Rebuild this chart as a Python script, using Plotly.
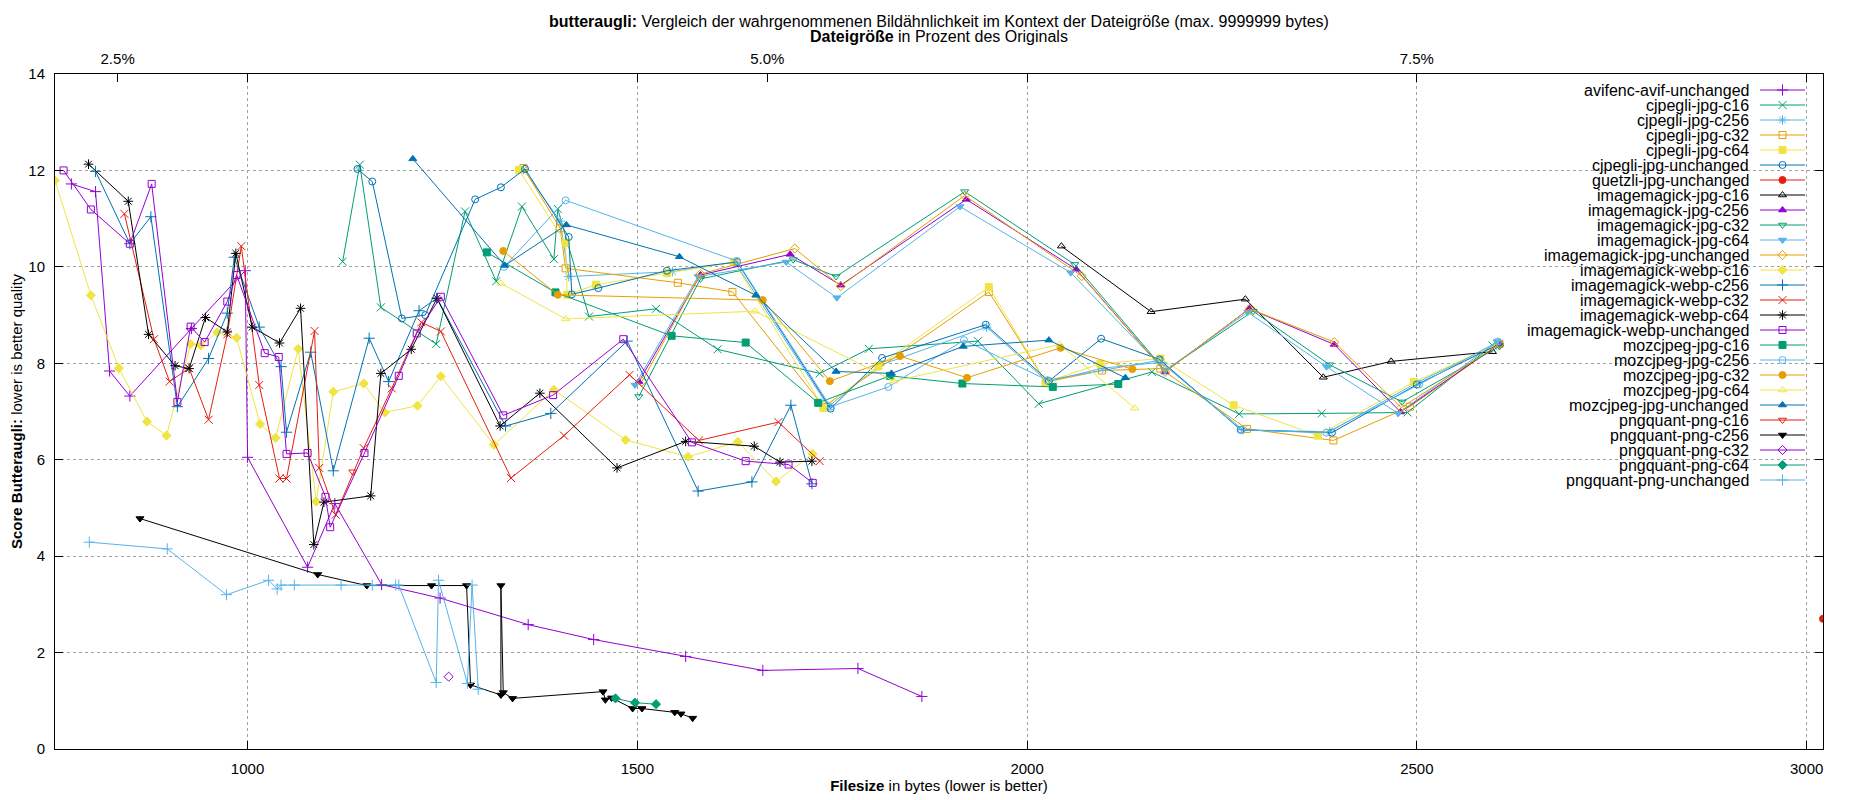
import plotly.graph_objects as go

# ── Data (file size in bytes, butteraugli score) ──────────────────────────────

avifenc_avif_unchanged_size = [774, 805, 823, 849, 928, 997, 1000, 1077, 1112, 1172, 1247, 1360, 1444, 1562, 1661, 1783, 1865]
avifenc_avif_unchanged_score = [11.72, 11.56, 7.84, 7.32, 8.72, 9.92, 6.05, 3.77, 5.09, 3.41, 3.13, 2.58, 2.27, 1.92, 1.63, 1.67, 1.09]

cjpegli_jpg_c16_size = [1122, 1144, 1171, 1242, 1279, 1319, 1352, 1393, 1398, 1438, 1524, 1603, 1734, 1797, 1937, 2015, 2160, 2272, 2378, 2488, 2597]
cjpegli_jpg_c16_score = [10.11, 12.12, 9.16, 8.40, 11.15, 9.70, 11.25, 10.16, 11.20, 8.97, 9.13, 8.29, 7.79, 8.30, 8.46, 7.16, 7.82, 6.95, 6.96, 6.98, 8.37]

cjpegli_jpg_c256_size = [1354, 1401, 1412, 1545, 1625, 1745, 1810, 1948, 2026, 2097, 2172, 2277, 2388, 2500, 2605]
cjpegli_jpg_c256_score = [12.02, 10.95, 9.80, 9.90, 10.10, 7.10, 7.95, 8.75, 7.62, 7.90, 8.02, 6.62, 6.58, 7.60, 8.42]

cjpegli_jpg_c32_size = [1354, 1401, 1408, 1552, 1622, 1739, 1951, 2024, 2096, 2171, 2282, 2393, 2491, 2606]
cjpegli_jpg_c32_score = [12.05, 10.80, 9.97, 9.67, 9.48, 7.10, 9.48, 7.61, 7.85, 7.89, 6.64, 6.40, 7.10, 8.40]

cjpegli_jpg_c64_size = [1348, 1408, 1410, 1447, 1538, 1624, 1739, 1809, 1951, 2024, 2094, 2171, 2265, 2373, 2496, 2604]
cjpegli_jpg_c64_score = [12.01, 10.50, 9.42, 9.63, 9.87, 10.10, 7.07, 7.94, 9.58, 7.61, 7.99, 8.10, 7.13, 6.50, 7.61, 8.40]

cjpegli_jpg_unchanged_size = [1141, 1160, 1198, 1228, 1292, 1325, 1356, 1412, 1416, 1450, 1538, 1628, 1748, 1814, 1947, 2028, 2095, 2170, 2274, 2391, 2500, 2606]
cjpegli_jpg_unchanged_score = [12.03, 11.77, 8.93, 9.00, 11.40, 11.65, 12.03, 10.62, 9.43, 9.56, 9.92, 10.10, 7.06, 8.11, 8.80, 7.63, 8.51, 8.08, 6.62, 6.56, 7.56, 8.40]

guetzli_jpg_unchanged_size = [3021]
guetzli_jpg_unchanged_score = [2.70]

imagemagick_jpg_c16_size = [2044, 2159, 2280, 2380, 2467, 2597]
imagemagick_jpg_c16_score = [10.43, 9.07, 9.33, 7.71, 8.04, 8.24]

imagemagick_jpg_c256_size = [1502, 1581, 1696, 1761, 1922, 2063, 2177, 2285, 2394, 2479, 2606]
imagemagick_jpg_c256_score = [7.62, 9.83, 10.26, 9.62, 11.40, 9.95, 7.82, 9.13, 8.39, 6.99, 8.40]

imagemagick_jpg_c32_size = [1502, 1581, 1700, 1755, 1920, 2061, 2177, 2290, 2388, 2481, 2606]
imagemagick_jpg_c32_score = [7.31, 9.75, 10.15, 9.80, 11.56, 10.05, 7.85, 9.08, 7.97, 7.20, 8.35]

imagemagick_jpg_c64_size = [1497, 1578, 1691, 1756, 1914, 2056, 2177, 2283, 2384, 2476, 2603]
imagemagick_jpg_c64_score = [7.55, 9.80, 10.10, 9.36, 11.25, 9.88, 7.85, 9.06, 7.93, 6.96, 8.45]

imagemagick_jpg_unchanged_size = [1506, 1581, 1702, 1761, 1920, 2070, 2177, 2285, 2394, 2480, 2606]
imagemagick_jpg_unchanged_score = [7.62, 9.85, 10.38, 9.60, 11.48, 9.81, 7.82, 9.13, 8.44, 7.08, 8.40]

imagemagick_webp_c16_size = [753, 799, 835, 871, 896, 927, 940, 961, 986, 1016, 1036, 1065, 1088, 1110, 1149, 1176, 1218, 1248, 1316, 1393, 1485, 1565, 1629, 1678, 1725]
imagemagick_webp_c16_score = [11.79, 9.41, 7.90, 6.79, 6.50, 8.40, 8.37, 8.64, 8.53, 6.74, 6.45, 8.30, 5.13, 7.41, 7.58, 6.98, 7.12, 7.73, 6.31, 7.45, 6.41, 6.06, 6.37, 5.55, 6.12]

imagemagick_webp_c256_size = [805, 849, 876, 910, 950, 974, 983, 1015, 1043, 1050, 1081, 1110, 1156, 1181, 1220, 1243, 1331, 1389, 1487, 1578, 1647, 1697, 1724]
imagemagick_webp_c256_score = [11.98, 10.48, 11.04, 7.10, 8.10, 9.04, 10.20, 8.75, 7.93, 6.57, 8.23, 5.77, 8.52, 7.62, 9.09, 9.35, 6.70, 6.96, 8.46, 5.35, 5.54, 7.13, 5.50]

imagemagick_webp_c32_size = [842, 880, 900, 925, 950, 974, 992, 1015, 1041, 1050, 1086, 1092, 1113, 1149, 1185, 1223, 1248, 1338, 1406, 1490, 1579, 1681, 1734]
imagemagick_webp_c32_score = [11.10, 8.50, 7.62, 7.90, 6.83, 8.60, 10.43, 7.55, 5.61, 5.61, 8.67, 5.83, 4.86, 6.24, 7.48, 8.85, 8.66, 5.62, 6.50, 7.76, 6.40, 6.78, 5.97]

imagemagick_webp_c64_size = [796, 847, 873, 907, 925, 946, 974, 985, 1006, 1041, 1068, 1085, 1098, 1158, 1171, 1210, 1243, 1324, 1375, 1474, 1562, 1650, 1683, 1724]
imagemagick_webp_c64_score = [12.13, 11.36, 8.60, 7.95, 7.89, 8.95, 8.65, 10.28, 8.75, 8.42, 9.14, 4.24, 5.12, 5.25, 7.79, 8.29, 9.35, 6.70, 7.38, 5.83, 6.38, 6.28, 5.95, 5.97]

imagemagick_webp_unchanged_size = [764, 799, 849, 877, 910, 927, 945, 974, 986, 1022, 1040, 1050, 1077, 1100, 1106, 1150, 1194, 1217, 1248, 1328, 1392, 1482, 1570, 1639, 1694, 1725]
imagemagick_webp_unchanged_score = [12.00, 11.19, 10.48, 11.72, 7.20, 8.76, 8.44, 9.28, 9.83, 8.21, 8.13, 6.12, 6.14, 5.23, 4.60, 6.14, 7.74, 8.62, 9.38, 6.92, 7.34, 8.50, 6.36, 5.97, 5.90, 5.52]

mozcjpeg_jpg_c16_size = [1307, 1395, 1544, 1639, 1732, 1824, 1917, 2033, 2117]
mozcjpeg_jpg_c16_score = [10.30, 9.47, 8.57, 8.43, 7.18, 7.74, 7.58, 7.51, 7.57]

mozcjpeg_jpg_c256_size = [1329, 1408, 1628, 1748, 1822, 1919, 2026, 2169, 2275, 2384, 2503, 2604]
mozcjpeg_jpg_c256_score = [10.00, 11.38, 10.12, 7.10, 7.51, 8.48, 7.65, 8.06, 6.62, 6.56, 7.56, 8.45]

mozcjpeg_jpg_c32_size = [1328, 1398, 1661, 1747, 1837, 1923, 2043, 2135]
mozcjpeg_jpg_c32_score = [10.33, 9.42, 9.31, 7.63, 8.15, 7.70, 8.32, 7.88]

mozcjpeg_jpg_c64_size = [1325, 1408, 1651, 1829, 2042, 2138]
mozcjpeg_jpg_c64_score = [9.66, 8.92, 9.08, 7.63, 8.39, 7.07]

mozcjpeg_jpg_unchanged_size = [1212, 1330, 1409, 1554, 1652, 1755, 1826, 1918, 2028, 2126]
mozcjpeg_jpg_unchanged_score = [12.24, 10.03, 10.87, 10.21, 9.41, 7.83, 7.79, 8.35, 8.48, 7.70]

pngquant_png_c16_size = [1135]
pngquant_png_c16_score = [5.75]

pngquant_png_c256_size = [862, 1090, 1153, 1236, 1281, 1286, 1325, 1325, 1328, 1340, 1456, 1459, 1467, 1494, 1506, 1548, 1556, 1571]
pngquant_png_c256_score = [4.78, 3.62, 3.39, 3.39, 3.39, 1.33, 1.12, 3.39, 1.17, 1.05, 1.19, 1.02, 1.06, 0.84, 0.84, 0.76, 0.73, 0.64]

pngquant_png_c32_size = [1258]
pngquant_png_c32_score = [1.50]

pngquant_png_c64_size = [1472, 1497, 1524]
pngquant_png_c64_score = [1.05, 0.96, 0.93]

pngquant_png_unchanged_size = [797, 897, 973, 1027, 1038, 1043, 1060, 1120, 1160, 1190, 1194, 1242, 1245, 1282, 1288, 1296]
pngquant_png_unchanged_score = [4.29, 4.15, 3.20, 3.50, 3.32, 3.40, 3.40, 3.40, 3.40, 3.40, 3.40, 1.38, 3.50, 1.36, 3.40, 1.24]

SERIES = [
    ("avifenc-avif-unchanged", avifenc_avif_unchanged_size, avifenc_avif_unchanged_score),
    ("cjpegli-jpg-c16", cjpegli_jpg_c16_size, cjpegli_jpg_c16_score),
    ("cjpegli-jpg-c256", cjpegli_jpg_c256_size, cjpegli_jpg_c256_score),
    ("cjpegli-jpg-c32", cjpegli_jpg_c32_size, cjpegli_jpg_c32_score),
    ("cjpegli-jpg-c64", cjpegli_jpg_c64_size, cjpegli_jpg_c64_score),
    ("cjpegli-jpg-unchanged", cjpegli_jpg_unchanged_size, cjpegli_jpg_unchanged_score),
    ("guetzli-jpg-unchanged", guetzli_jpg_unchanged_size, guetzli_jpg_unchanged_score),
    ("imagemagick-jpg-c16", imagemagick_jpg_c16_size, imagemagick_jpg_c16_score),
    ("imagemagick-jpg-c256", imagemagick_jpg_c256_size, imagemagick_jpg_c256_score),
    ("imagemagick-jpg-c32", imagemagick_jpg_c32_size, imagemagick_jpg_c32_score),
    ("imagemagick-jpg-c64", imagemagick_jpg_c64_size, imagemagick_jpg_c64_score),
    ("imagemagick-jpg-unchanged", imagemagick_jpg_unchanged_size, imagemagick_jpg_unchanged_score),
    ("imagemagick-webp-c16", imagemagick_webp_c16_size, imagemagick_webp_c16_score),
    ("imagemagick-webp-c256", imagemagick_webp_c256_size, imagemagick_webp_c256_score),
    ("imagemagick-webp-c32", imagemagick_webp_c32_size, imagemagick_webp_c32_score),
    ("imagemagick-webp-c64", imagemagick_webp_c64_size, imagemagick_webp_c64_score),
    ("imagemagick-webp-unchanged", imagemagick_webp_unchanged_size, imagemagick_webp_unchanged_score),
    ("mozcjpeg-jpg-c16", mozcjpeg_jpg_c16_size, mozcjpeg_jpg_c16_score),
    ("mozcjpeg-jpg-c256", mozcjpeg_jpg_c256_size, mozcjpeg_jpg_c256_score),
    ("mozcjpeg-jpg-c32", mozcjpeg_jpg_c32_size, mozcjpeg_jpg_c32_score),
    ("mozcjpeg-jpg-c64", mozcjpeg_jpg_c64_size, mozcjpeg_jpg_c64_score),
    ("mozcjpeg-jpg-unchanged", mozcjpeg_jpg_unchanged_size, mozcjpeg_jpg_unchanged_score),
    ("pngquant-png-c16", pngquant_png_c16_size, pngquant_png_c16_score),
    ("pngquant-png-c256", pngquant_png_c256_size, pngquant_png_c256_score),
    ("pngquant-png-c32", pngquant_png_c32_size, pngquant_png_c32_score),
    ("pngquant-png-c64", pngquant_png_c64_size, pngquant_png_c64_score),
    ("pngquant-png-unchanged", pngquant_png_unchanged_size, pngquant_png_unchanged_score),
]

X_TICKS = [1000, 1500, 2000, 2500, 3000]
PCT_TICKS = [2.5, 5.0, 7.5]
ORIGINAL_BYTES = 33333          # 7.5 % of the original sits at 2500 bytes
X_RANGE = [753, 3021]

# gnuplot default colour cycle and point types
COLORS = ["#9400d3", "#009e73", "#56b4e9", "#e69f00", "#f0e442", "#0072b2", "#e51e10", "#000000"]
SYMBOLS = ["cross-thin-open", "x-thin-open", "asterisk-open", "square-open", "square",
           "circle-open", "circle", "triangle-up-open", "triangle-up", "triangle-down-open",
           "triangle-down", "diamond-open", "diamond"]

FONT = "Liberation Sans, Arial, sans-serif"

# plot area as it lands on screen (the page body adds an 8 px offset)
PAGE_OFFSET = 8
PLOT_L, PLOT_R, PLOT_T, PLOT_B = 55, 1823, 74, 749

fig = go.Figure()

def marker_for(i):
    color = COLORS[i % len(COLORS)]
    symbol = SYMBOLS[i % len(SYMBOLS)]
    size = 8 if symbol.endswith("thin-open") or symbol == "asterisk-open" else 7
    return color, dict(symbol=symbol, size=size, color=color, line=dict(color=color, width=1))

for i, (name, sizes, scores) in enumerate(SERIES):
    color, marker = marker_for(i)
    fig.add_trace(go.Scatter(
        x=sizes, y=scores, name=name, mode="lines+markers",
        line=dict(color=color, width=1), marker=marker, showlegend=False,
    ))

# dummy trace so the percent axis on top gets drawn
fig.add_trace(go.Scatter(x=[], y=[], xaxis="x2", yaxis="y", showlegend=False, hoverinfo="skip"))

# ── Key (text right aligned, sample on the right, like gnuplot) ───────────────

KEY_TOP, KEY_STEP = 90, 15.0
KEY_TEXT_X, KEY_LINE_X0, KEY_LINE_X1 = 1751, 1760, 1805

for i, (name, sizes, scores) in enumerate(SERIES):
    color, marker = marker_for(i)
    yk = KEY_TOP + i * KEY_STEP
    fig.add_trace(go.Scatter(
        x=[KEY_LINE_X0, KEY_LINE_X1], y=[yk, yk], xaxis="x3", yaxis="y3",
        mode="lines", line=dict(color=color, width=1), showlegend=False, hoverinfo="skip",
    ))
    fig.add_trace(go.Scatter(
        x=[(KEY_LINE_X0 + KEY_LINE_X1) / 2], y=[yk], xaxis="x3", yaxis="y3",
        mode="markers", marker=marker, showlegend=False, hoverinfo="skip", cliponaxis=False,
    ))
    fig.add_annotation(
        x=KEY_TEXT_X, y=yk, xref="x3", yref="y3", text=name, showarrow=False,
        xanchor="right", yanchor="middle",
        font=dict(family=FONT, size=16, color="#000000"),
    )

# white key background hides the grid behind it
fig.add_shape(
    type="rect", xref="paper", yref="paper", layer="between",
    x0=(1516 - PLOT_L) / (PLOT_R - PLOT_L), x1=1,
    y0=(PLOT_B - 488) / (PLOT_B - PLOT_T), y1=1,
    fillcolor="white", line=dict(width=0),
)

# ── Title lines ───────────────────────────────────────────────────────────────

fig.add_annotation(
    x=0.5, y=1 + 53 / (PLOT_B - PLOT_T), xref="paper", yref="paper", showarrow=False,
    text="<b>butteraugli:</b> Vergleich der wahrgenommenen Bildähnlichkeit im Kontext der Dateigröße (max. 9999999 bytes)",
    font=dict(family=FONT, size=16, color="#000000"), yanchor="middle",
)
fig.add_annotation(
    x=0.5, y=1 + 37 / (PLOT_B - PLOT_T), xref="paper", yref="paper", showarrow=False,
    text="<b>Dateigröße</b> in Prozent des Originals",
    font=dict(family=FONT, size=16, color="#000000"), yanchor="middle",
)

axis_style = dict(
    showline=True, linecolor="#000000", linewidth=1, mirror="ticks",
    ticks="inside", ticklen=8, tickcolor="#000000", tickwidth=1,
    showgrid=True, gridcolor="#a0a0a0", griddash="dot", gridwidth=1,
    zeroline=False, tickfont=dict(family=FONT, size=15, color="#000000"),
)

fig.update_layout(
    width=1850, height=800,
    margin=dict(l=PLOT_L - PAGE_OFFSET, r=1850 + PAGE_OFFSET - PLOT_R,
                t=PLOT_T - PAGE_OFFSET, b=800 + PAGE_OFFSET - PLOT_B, autoexpand=False),
    paper_bgcolor="white", plot_bgcolor="white",
    font=dict(family=FONT, size=15, color="#000000"),
    showlegend=False,
    xaxis=dict(
        range=X_RANGE, tickvals=X_TICKS, ticklabelstandoff=6,
        title=dict(text="<b>Filesize</b> in bytes (lower is better)", standoff=4,
                   font=dict(family=FONT, size=15)),
        **axis_style,
    ),
    yaxis=dict(
        range=[0, 14], dtick=2, ticklabelstandoff=6,
        title=dict(text="<b>Score Butteraugli:</b> lower is better quality", standoff=12,
                   font=dict(family=FONT, size=15)),
        **axis_style,
    ),
    xaxis2=dict(
        overlaying="x", side="top", anchor="y",
        range=[X_RANGE[0] * 100 / ORIGINAL_BYTES, X_RANGE[1] * 100 / ORIGINAL_BYTES],
        tickvals=PCT_TICKS, ticktext=[f"{p:.1f}%" for p in PCT_TICKS],
        ticks="inside", ticklen=8, tickcolor="#000000", showgrid=False, showline=False,
        zeroline=False, ticklabelstandoff=6,
        tickfont=dict(family=FONT, size=15, color="#000000"),
    ),
    xaxis3=dict(overlaying="x", anchor="y3", range=[PLOT_L, PLOT_R], visible=False),
    yaxis3=dict(overlaying="y", anchor="x3", range=[PLOT_B, PLOT_T], visible=False),
)

fig.write_html("out.html")
